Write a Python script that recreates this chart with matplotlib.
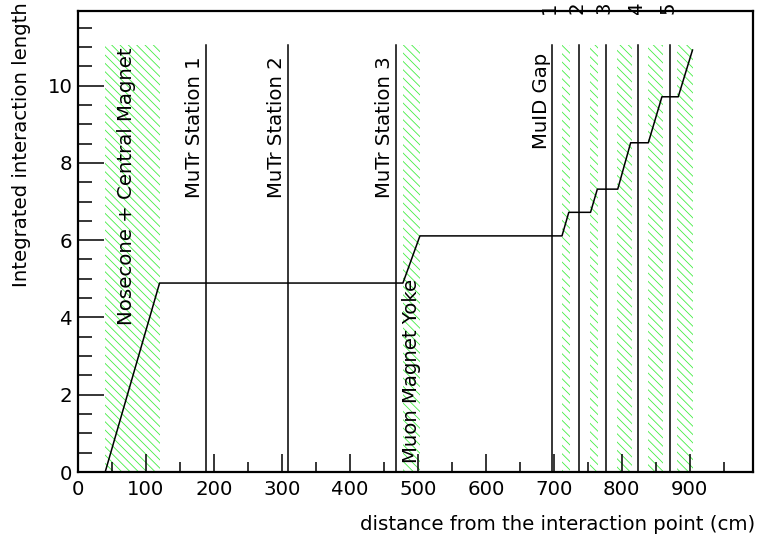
import matplotlib
matplotlib.use("Agg")
import matplotlib.pyplot as plt
from matplotlib.ticker import MultipleLocator

# ---- data ----
curve_x = [40, 120, 478, 503, 712, 722, 754, 764, 794, 813, 839, 859, 883, 904]
curve_y = [0, 4.89, 4.89, 6.11, 6.11, 6.72, 6.72, 7.32, 7.32, 8.52, 8.52, 9.71, 9.71, 10.92]

absorber_start = [40, 478, 712, 753, 793, 838, 881]
absorber_end = [120, 503, 724, 765, 815, 860, 904]

mutr_x = [189, 309, 468]
mutr_labels = ["MuTr Station 1", "MuTr Station 2", "MuTr Station 3"]

muid_x = [697, 737, 777, 824, 871]
muid_labels = ["1", "2", "3", "4", "5"]

plt.rcParams['font.family'] = ['DejaVu Sans']
plt.rcParams['hatch.linewidth'] = 0.6
plt.rcParams['hatch.color'] = '#44ee44'

fig = plt.figure(figsize=(7.65, 5.41), dpi=100)
ax = fig.add_axes([78/765, (541-472)/541, (753-78)/765, (472-11)/541])
ax.set_xlim(0, 993)
ax.set_ylim(0, 11.93)

fs = 14.2
top = 11.05

for s, e in zip(absorber_start, absorber_end):
    ax.fill_between([s, e], 0, top, facecolor='none', edgecolor='#44ee44',
                    hatch='\\\\\\\\', linewidth=0)

for x in mutr_x + muid_x:
    ax.plot([x, x], [0, top], color='black', lw=1.1)

ax.plot(curve_x, curve_y, color='black', lw=1.1)

# labels
ax.text(72, 3.8, "Nosecone + Central Magnet", rotation=90, ha='center', va='bottom', fontsize=fs)
for x, lab in zip(mutr_x, mutr_labels):
    ax.text(x - 17, 7.1, lab, rotation=90, ha='center', va='bottom', fontsize=fs)
ax.text(490, 0.22, "Muon Magnet Yoke", rotation=90, ha='center', va='bottom', fontsize=fs)
ax.text(682, 8.36, "MuID Gap", rotation=90, ha='center', va='bottom', fontsize=fs)
for x, lab in zip(muid_x, muid_labels):
    ax.text(x - 3, 11.85, lab, rotation=90, ha='center', va='bottom', fontsize=fs, clip_on=False)

# axes styling
for sp in ax.spines.values():
    sp.set_linewidth(1.6)
ax.xaxis.set_major_locator(MultipleLocator(100))
ax.xaxis.set_minor_locator(MultipleLocator(50))
ax.yaxis.set_major_locator(MultipleLocator(2))
ax.yaxis.set_minor_locator(MultipleLocator(0.5))
ax.tick_params(axis='x', which='major', direction='in', length=13, width=1.1, labelsize=fs, pad=6)
ax.tick_params(axis='x', which='minor', direction='in', length=7, width=1.1)
ax.tick_params(axis='y', which='major', direction='in', length=19, width=1.1, labelsize=fs, pad=4)
ax.tick_params(axis='y', which='minor', direction='in', length=10, width=1.1)

fig.text(755/765, (541-524)/541, "distance from the interaction point (cm)", ha='right', va='center', fontsize=fs)
fig.text(22/765, 1 - 2/541, "Integrated interaction length", rotation=90, ha='center', va='top', fontsize=fs)

fig.savefig("out.png", dpi=100)
